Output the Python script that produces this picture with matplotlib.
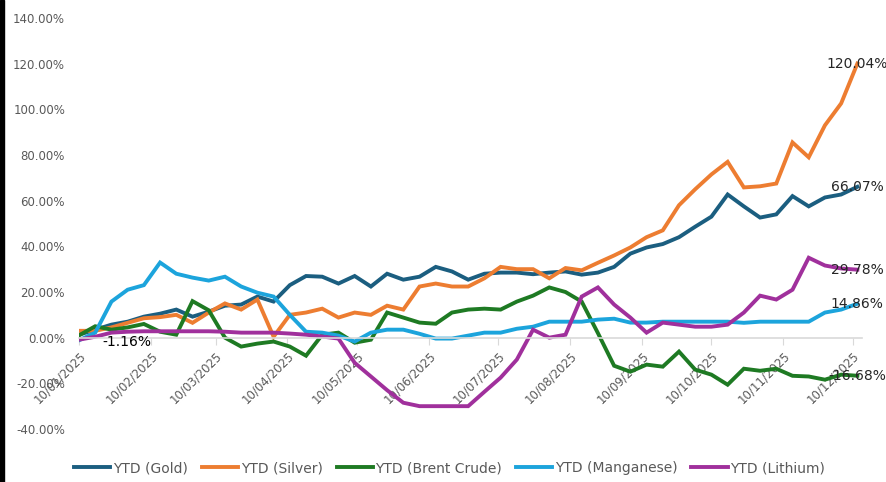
import numpy as np
import pandas as pd
import matplotlib
matplotlib.use('Agg')
import matplotlib.pyplot as plt
import matplotlib.dates as mdates
from matplotlib.ticker import FuncFormatter
from matplotlib.patches import Rectangle

# weekly YTD returns (%)
dates = pd.date_range('2025-01-10', periods=49, freq='7D')

gold = [1.3, 3.5, 5.7, 7.0, 9.2, 10.5, 12.3, 9.2, 11.4, 14.0, 14.5, 18.0, 15.8,
        23.0, 27.0, 26.7, 23.7, 27.0, 22.4, 28.0, 25.4, 26.7, 31.0, 29.0, 25.4,
        28.0, 28.5, 28.5, 27.8, 28.5, 29.0, 27.6, 28.5, 31.0, 36.8, 39.5, 41.0,
        44.0, 48.6, 53.0, 62.7, 57.5, 52.6, 54.0, 62.0, 57.5, 61.4, 62.7, 66.07]

silver = [3.0, 3.0, 4.5, 6.5, 8.5, 9.0, 10.0, 6.5, 11.0, 15.0, 12.3, 16.7, 0.4,
          10.0, 11.0, 12.7, 8.8, 11.0, 10.0, 14.0, 12.3, 22.4, 23.7, 22.4, 22.4,
          26.0, 31.0, 30.0, 30.0, 26.0, 30.5, 29.5, 32.8, 36.0, 39.5, 44.0, 47.0,
          58.0, 65.0, 71.5, 77.0, 65.8, 66.3, 67.5, 85.5, 79.0, 93.0, 102.6, 120.04]

brent = [1.0, 5.0, 3.5, 4.5, 6.0, 2.6, 1.3, 16.0, 12.0, 0.0, -3.9, -2.6, -1.7,
         -3.9, -7.9, 1.3, 2.2, -2.2, -0.9, 11.0, 8.8, 6.6, 6.1, 11.0, 12.3,
         12.7, 12.3, 15.8, 18.4, 22.0, 20.0, 15.8, 2.0, -12.3, -14.9, -11.8, -12.7,
         -6.1, -14.0, -16.2, -20.6, -13.6, -14.5, -13.6, -16.7, -17.0, -18.4, -16.2, -16.68]

manganese = [-1.16, 2.2, 15.8, 21.0, 23.0, 32.9, 28.0, 26.3, 25.0, 26.7, 22.4, 19.7, 18.0,
             10.0, 2.6, 2.2, 0.9, -1.7, 2.2, 3.5, 3.5, 1.7, -0.4, -0.4, 0.9,
             2.2, 2.2, 3.9, 4.8, 7.0, 7.0, 7.0, 7.9, 8.3, 6.6, 6.6, 7.0,
             7.0, 7.0, 7.0, 7.0, 6.5, 7.0, 7.0, 7.0, 7.0, 11.0, 12.3, 14.86]

lithium = [-0.9, 0.4, 2.2, 2.6, 2.8, 2.8, 2.8, 2.8, 2.8, 2.6, 2.2, 2.2, 2.2,
           1.8, 1.3, 0.5, -0.4, -11.0, -17.0, -23.0, -28.5, -30.0, -30.0, -30.0, -30.0,
           -23.7, -17.5, -9.6, 3.5, 0.0, 1.3, 18.0, 22.0, 14.5, 8.8, 2.2, 6.6,
           5.7, 4.8, 4.8, 5.7, 11.0, 18.4, 16.7, 21.0, 35.0, 31.6, 30.3, 29.78]

names = ['YTD (Gold)', 'YTD (Silver)', 'YTD (Brent Crude)', 'YTD (Manganese)', 'YTD (Lithium)']
colors = ['#1b5e80', '#ed7d31', '#1e7a23', '#1ca4dc', '#a0309c']
series = [gold, silver, brent, manganese, lithium]

fig = plt.figure(figsize=(8.87, 4.82), dpi=100)
ax = fig.add_axes([79 / 887, 1 - 429 / 482, (862 - 79) / 887, (429 - 18) / 482])

for vals, name, col in zip(series, names, colors):
    ax.plot(dates, vals, color=col, lw=2.8, label=name, solid_joinstyle='miter')

# end labels
for vals in [silver, gold, lithium, manganese, brent]:
    ax.annotate(f'{vals[-1]:.2f}%', (dates[-1], vals[-1]), ha='center', va='center',
                fontsize=10, color='#262626', annotation_clip=False)
ax.annotate(f'{manganese[0]:.2f}%', (dates[0], manganese[0]), xytext=(17, -1),
            textcoords='offset points', ha='left', va='center', fontsize=10, color='#000000')

ax.set_ylim(-40, 140)
ax.set_yticks(np.arange(-40, 141, 20))
ax.yaxis.set_major_formatter(FuncFormatter(lambda v, p: f'{v:.2f}%'))
ax.set_xlim(pd.Timestamp('2025-01-10'), pd.Timestamp('2025-12-14'))

ax.xaxis.set_major_locator(mdates.MonthLocator(bymonthday=10))
ax.xaxis.set_major_formatter(mdates.DateFormatter('%d/%m/%Y'))

for s in ['top', 'right', 'left']:
    ax.spines[s].set_visible(False)
ax.spines['bottom'].set_position(('data', 0))
ax.spines['bottom'].set_color('#d9d9d9')
ax.spines['bottom'].set_linewidth(1.2)

ax.tick_params(axis='y', length=0, labelsize=8.5, labelcolor='#595959', pad=10)
ax.tick_params(axis='x', length=5, color='#d9d9d9', labelsize=8.5, labelcolor='#595959', pad=3)
for lbl in ax.get_xticklabels():
    lbl.set_rotation(45)
    lbl.set_ha('right')
    lbl.set_va('top')
    lbl.set_rotation_mode('anchor')

leg = fig.legend(loc='lower center', bbox_to_anchor=(0.507, -0.012), ncol=5, frameon=False,
                 fontsize=10, handlelength=2.6, handletextpad=0.2, columnspacing=1.0)
for t in leg.get_texts():
    t.set_color('#595959')

fig.add_artist(Rectangle((0, 0), 4 / 887, 1, transform=fig.transFigure, color='black'))

fig.savefig('out.png', dpi=100)
